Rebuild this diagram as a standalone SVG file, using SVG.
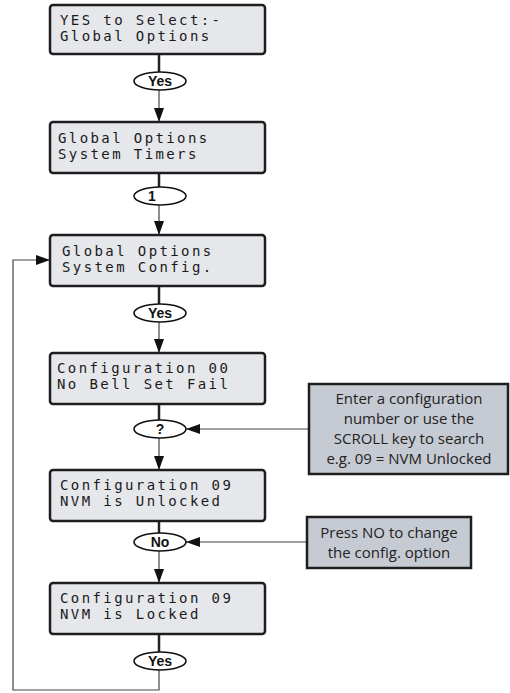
<svg xmlns="http://www.w3.org/2000/svg" width="510" height="693" viewBox="0 0 510 693">
<style>
.box{fill:#e5e7eb;stroke:#1e1e1e;stroke-width:2.5}
.lcd{font-family:"DejaVu Sans Mono","Liberation Mono",monospace;font-size:14px;letter-spacing:2.4px;fill:#1a1a1a}
.oval{fill:#fff;stroke:#111;stroke-width:1.6}
.olbl{font-family:"Liberation Sans",Arial,sans-serif;font-size:14px;font-weight:bold;fill:#111;text-anchor:middle}
.note{fill:#c6cad2;stroke:#1e1e1e;stroke-width:2.5}
.ntxt{font-family:"Open Sans","Noto Sans",sans-serif;font-size:15px;fill:#222;text-anchor:middle}
.thick{stroke:#222;stroke-width:2.5;fill:none}
.thin{stroke:#444;stroke-width:1.2;fill:none}
</style>
<defs>
<marker id="arr" viewBox="0 0 14 10" refX="14" refY="5" markerWidth="14" markerHeight="10" orient="auto" markerUnits="userSpaceOnUse">
<path d="M0,0 L14,5 L0,10 z" fill="#111"/>
</marker>
</defs>
<g id="connectors">
<line class="thick" x1="159" y1="54" x2="159" y2="72"/>
<line class="thin" x1="159" y1="90" x2="159" y2="122" marker-end="url(#arr)"/>
<line class="thick" x1="159" y1="173" x2="159" y2="187"/>
<line class="thin" x1="159" y1="205" x2="159" y2="235" marker-end="url(#arr)"/>
<line class="thick" x1="159" y1="286" x2="159" y2="304"/>
<line class="thin" x1="159" y1="322" x2="159" y2="353" marker-end="url(#arr)"/>
<line class="thick" x1="159" y1="404" x2="159" y2="420"/>
<line class="thin" x1="159" y1="438" x2="159" y2="470" marker-end="url(#arr)"/>
<line class="thick" x1="159" y1="521" x2="159" y2="533"/>
<line class="thin" x1="159" y1="551" x2="159" y2="583" marker-end="url(#arr)"/>
<line class="thick" x1="159" y1="634" x2="159" y2="652"/>
<polyline class="thin" points="159,670 159,690 13,690 13,260 50,260" marker-end="url(#arr)"/>
<line class="thin" x1="309" y1="429" x2="186" y2="429" marker-end="url(#arr)"/>
<line class="thin" x1="307" y1="542" x2="186" y2="542" marker-end="url(#arr)"/>
</g>
<g id="box1">
<rect class="box" x="50" y="5" width="215" height="49" rx="3"/>
<text class="lcd" x="60" y="25">YES to Select:-</text>
<text class="lcd" x="60" y="41">Global Options</text>
</g>
<g id="oval-yes1">
<ellipse class="oval" cx="160" cy="81" rx="26" ry="9"/>
<text class="olbl" x="160" y="86">Yes</text>
</g>
<g id="box2">
<rect class="box" x="50" y="122" width="215" height="51" rx="3"/>
<text class="lcd" x="58" y="143">Global Options</text>
<text class="lcd" x="58" y="159">System Timers</text>
</g>
<g id="oval-1">
<ellipse class="oval" cx="160" cy="196" rx="26" ry="9"/>
<text class="olbl" x="152" y="201">1</text>
</g>
<g id="box3">
<rect class="box" x="50" y="235" width="215" height="51" rx="3"/>
<text class="lcd" x="62" y="256">Global Options</text>
<text class="lcd" x="62" y="272">System Config.</text>
</g>
<g id="oval-yes2">
<ellipse class="oval" cx="160" cy="313" rx="26" ry="9"/>
<text class="olbl" x="160" y="318">Yes</text>
</g>
<g id="box4">
<rect class="box" x="50" y="353" width="215" height="51" rx="3"/>
<text class="lcd" x="57" y="373">Configuration 00</text>
<text class="lcd" x="57" y="389">No Bell Set Fail</text>
</g>
<g id="oval-q">
<ellipse class="oval" cx="160" cy="429" rx="26" ry="9"/>
<text class="olbl" x="160" y="434">?</text>
</g>
<g id="note1">
<rect class="note" x="309" y="384" width="199" height="90"/>
<text class="ntxt" x="409" y="404">Enter a configuration</text>
<text class="ntxt" x="409" y="424">number or use the</text>
<text class="ntxt" x="409" y="444">SCROLL key to search</text>
<text class="ntxt" x="409" y="464">e.g. 09 =  NVM Unlocked</text>
</g>
<g id="box5">
<rect class="box" x="50" y="470" width="215" height="51" rx="3"/>
<text class="lcd" x="60" y="490">Configuration 09</text>
<text class="lcd" x="60" y="506">NVM is Unlocked</text>
</g>
<g id="oval-no">
<ellipse class="oval" cx="160" cy="542" rx="26" ry="9"/>
<text class="olbl" x="160" y="547">No</text>
</g>
<g id="note2">
<rect class="note" x="307" y="517" width="164" height="51"/>
<text class="ntxt" x="389" y="538">Press NO to change</text>
<text class="ntxt" x="389" y="558">the config. option</text>
</g>
<g id="box6">
<rect class="box" x="50" y="583" width="215" height="51" rx="3"/>
<text class="lcd" x="60" y="603">Configuration 09</text>
<text class="lcd" x="60" y="619">NVM is Locked</text>
</g>
<g id="oval-yes3">
<ellipse class="oval" cx="160" cy="661" rx="26" ry="9"/>
<text class="olbl" x="160" y="666">Yes</text>
</g>
</svg>
